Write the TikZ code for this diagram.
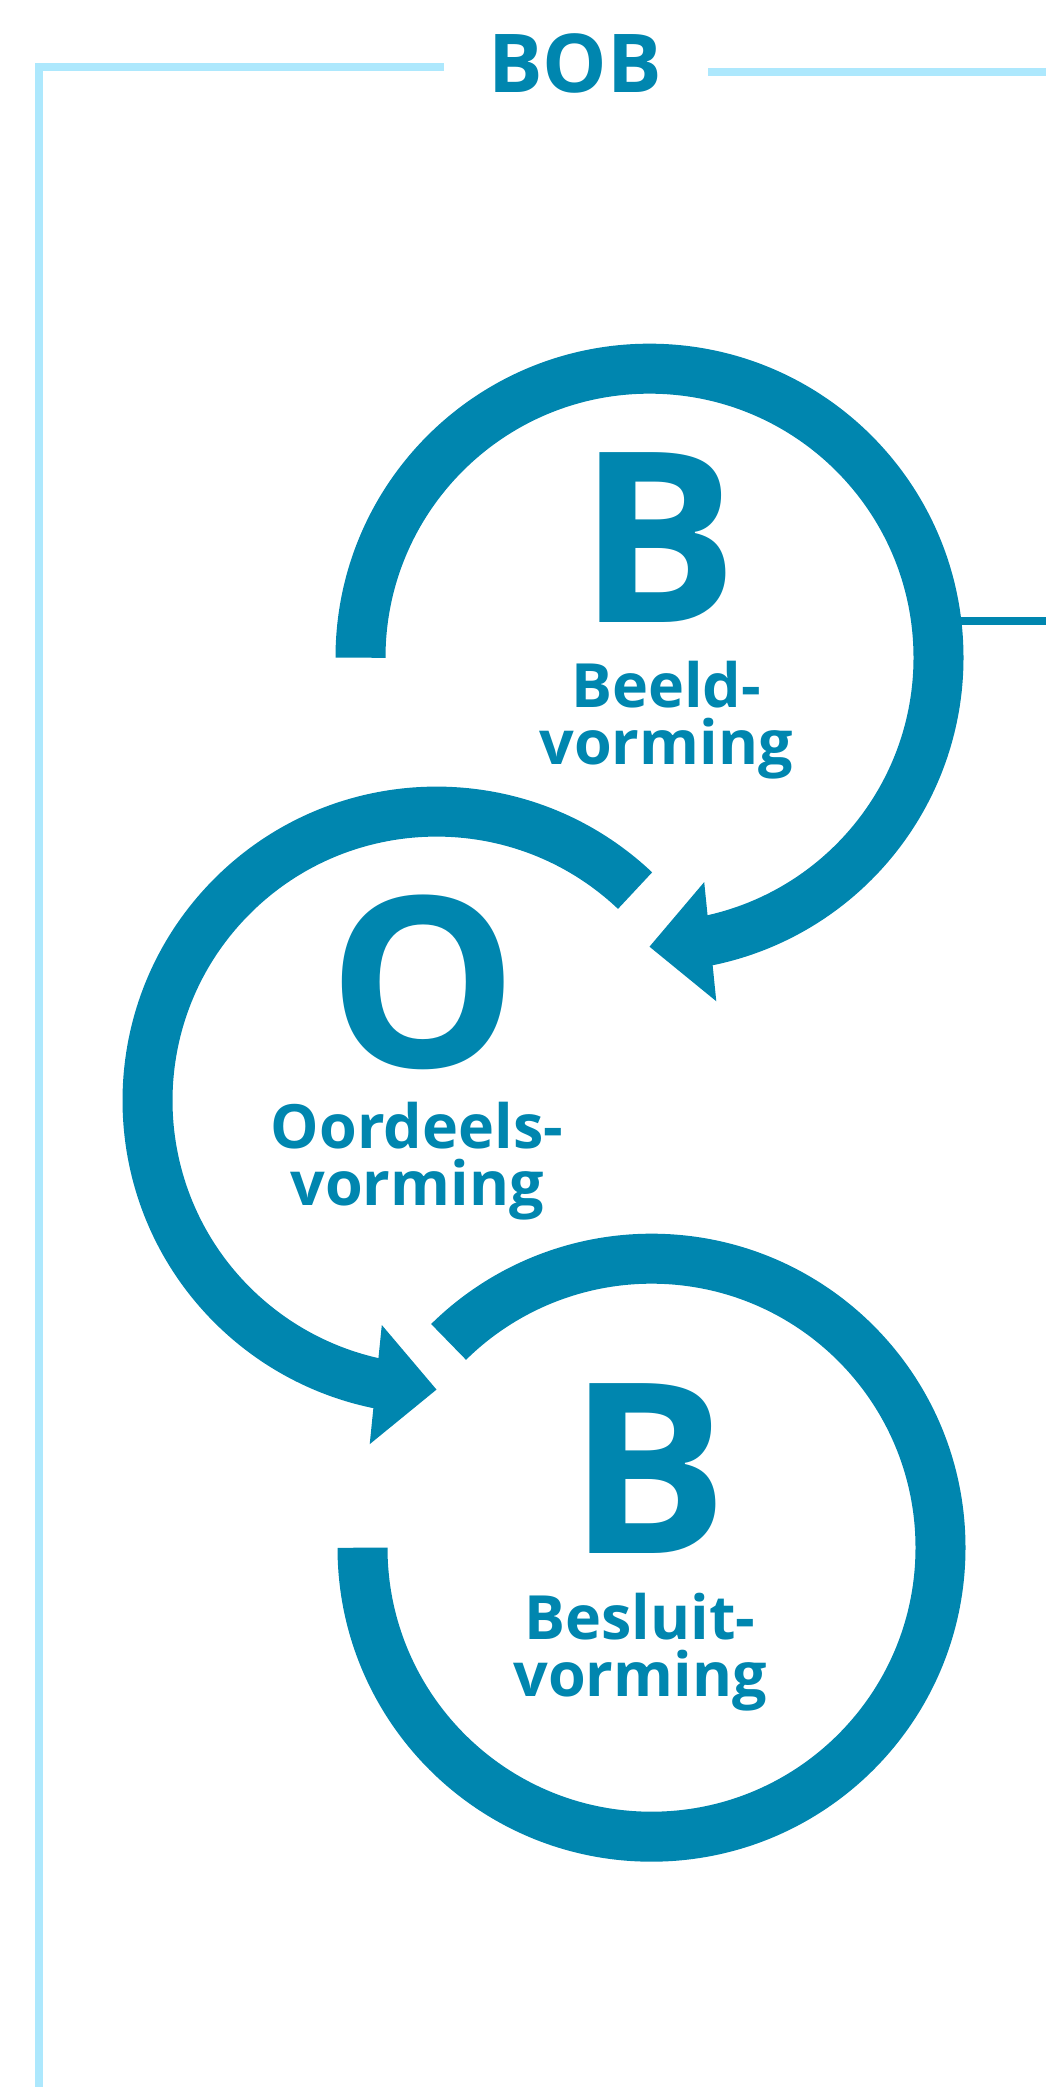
\documentclass[tikz,border=0pt]{standalone}
\usepackage{fontspec}
\setmainfont{Open Sans}
\usetikzlibrary{calc}
\definecolor{bobblue}{RGB}{0,134,175}
\definecolor{framecyan}{RGB}{173,232,253}

\begin{document}
\begin{tikzpicture}[x=0.5pt,y=0.5pt,
  ring/.style={draw=bobblue,line width=25pt},
  arrowhead/.style={fill=bobblue},
  frame/.style={draw=framecyan,line width=4pt},
  letter/.style={text=bobblue,inner sep=0pt,anchor=base,
    font=\fontsize{119}{119}\selectfont\bfseries},
  caption/.style={text=bobblue,inner sep=0pt,anchor=base,align=center,
    font=\fontsize{30.5}{28.5}\selectfont\bfseries}]

  \useasboundingbox (0,0) rectangle (1046,2087);

  % frame and title
  \draw[frame,line join=miter] (444,2020) -- (39,2020) -- (39,0);
  \draw[frame] (708,2015) -- (1046,2015);
  \node[text=bobblue,inner sep=0pt,anchor=base,
    font=\fontsize{40.6}{41}\selectfont\bfseries] (title) at (575,1994) {BOB};

  % ring centres
  \coordinate (b1) at (649.5,1429.3);
  \coordinate (o)  at (436.5,986.4);
  \coordinate (b2) at (651.5,539.3);

  % line out to the right
  \coordinate (exit) at (1046,1466);
  \coordinate (join) at ($(b1)+(7:289)$);
  \draw[bobblue,line width=4pt] (join |- exit) -- (exit);

  % Beeldvorming
  \draw[ring] ($(b1)+(180:289)$) arc[start angle=180,end angle=-80,radius=289];
  \fill[arrowhead] ($(b1)+(-76.3:231)$) -- ($(b1)+(-90:289)$)
    -- ($(b1)+(-79:350)$) -- cycle;
  \node[letter] (B1) at (658,1464.3) {B};
  \node[caption] (beeld) at (666,1322) {Beeld-\\vorming};

  % Oordeelsvorming
  \draw[ring] ($(o)+(46.6:289)$) arc[start angle=46.6,end angle=260,radius=289];
  \fill[arrowhead] ($(o)+(256.3:231)$) -- ($(o)+(270:289)$)
    -- ($(o)+(259:350)$) -- cycle;
  \node[letter] (O) at (423.3,1019) {O};
  \node[caption] (oordeel) at (417,881) {Oordeels-\\vorming};

  % Besluitvorming
  \draw[ring] ($(b2)+(180:289)$) arc[start angle=180,end angle=494.6,radius=289];
  \node[letter] (B2) at (648,533) {B};
  \node[caption] (besluit) at (640,390) {Besluit-\\vorming};
\end{tikzpicture}
\end{document}
